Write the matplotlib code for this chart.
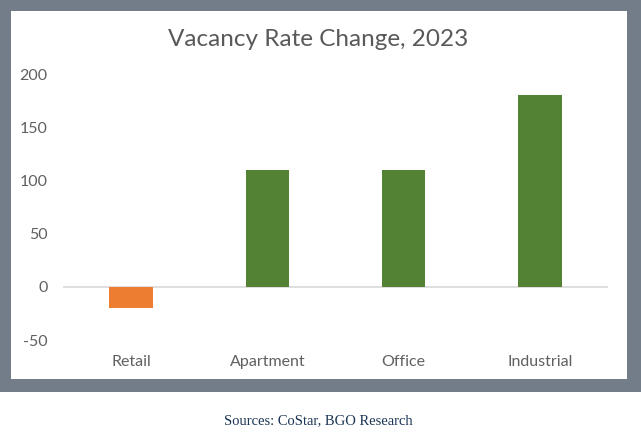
import matplotlib
matplotlib.use("Agg")
import matplotlib.pyplot as plt
from matplotlib.patches import Rectangle

categories = ["Retail", "Apartment", "Office", "Industrial"]
values = [-20, 110, 110, 180]
yticks = [-50, 0, 50, 100, 150, 200]

W, H = 641, 434
fig = plt.figure(figsize=(W / 100, H / 100), dpi=100)
fig.patch.set_facecolor("white")

# gray frame and white panel behind the chart
fig.add_artist(Rectangle((0, 1 - 392 / H), 1, 392 / H, transform=fig.transFigure,
                         facecolor="#737d8a", edgecolor="none", zorder=-2))
fig.add_artist(Rectangle((11 / W, 1 - 379 / H), (627 - 11) / W, (379 - 11) / H,
                         transform=fig.transFigure, facecolor="white",
                         edgecolor="none", zorder=-1))

ax = fig.add_axes([63 / W, 1 - 340 / H, 545 / W, (340 - 74) / H])
ax.set_zorder(2)
ax.set_facecolor("none")
colors = ["#ed7d31" if v < 0 else "#548235" for v in values]
x = range(len(categories))
ax.bar(x, values, width=0.32, color=colors, zorder=2)
ax.axhline(0, color="#d9d9d9", linewidth=1.2, zorder=1)
ax.set_xlim(-0.5, len(categories) - 0.5)
ax.set_ylim(-50, 200)
ax.set_yticks(yticks)
ax.set_yticklabels([str(t) for t in yticks], fontfamily="Lato", fontsize=11.5, color="#606060")
ax.set_xticks(list(x))
ax.set_xticklabels(categories, fontfamily="Lato", fontsize=11.5, color="#606060")
ax.tick_params(length=0, axis="y", pad=11)
ax.tick_params(length=0, axis="x", pad=11)
for s in ax.spines.values():
    s.set_visible(False)

fig.text(318 / W, 1 - 40 / H, "Vacancy Rate Change, 2023", ha="center", va="center",
         fontfamily="Lato", fontsize=17.5, color="#595959", zorder=3)
fig.text(318 / W, 1 - 421 / H, "Sources: CoStar, BGO Research", ha="center", va="center",
         fontfamily="Liberation Serif", fontsize=10.5, color="#1b3554", zorder=3)

fig.savefig("out.png", dpi=100)
